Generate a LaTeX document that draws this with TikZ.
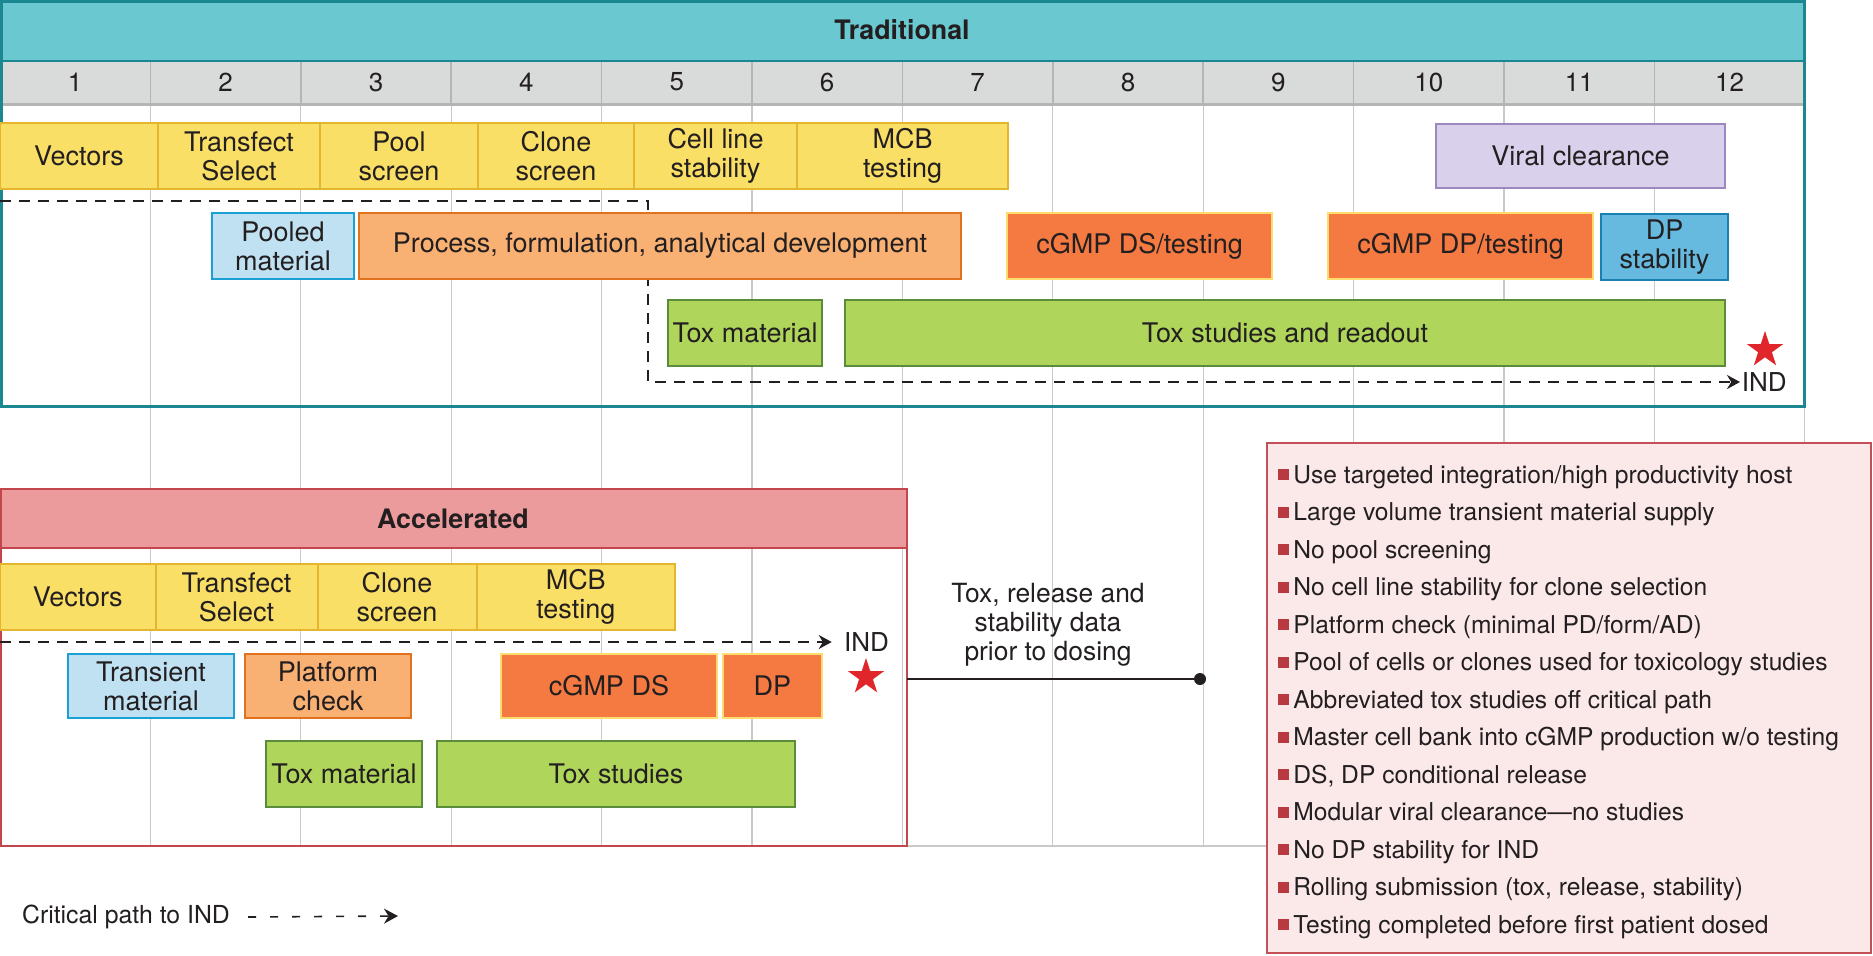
\documentclass[tikz,border=0pt]{standalone}
\usepackage{fontspec}
\setmainfont{TeX Gyre Heros}
\usetikzlibrary{positioning,arrows.meta,shapes.geometric}

\definecolor{ink}{HTML}{231F20}
\definecolor{headteal}{HTML}{69C8D0}
\definecolor{frameteal}{HTML}{1B8790}
\definecolor{rowgray}{HTML}{D9DBDB}
\definecolor{sepgray}{HTML}{B4B6B6}
\definecolor{gridgray}{HTML}{C9C9C9}
\definecolor{ybar}{HTML}{FADF66}
\definecolor{ybard}{HTML}{E3B62D}
\definecolor{lblue}{HTML}{BFE1F1}
\definecolor{lblued}{HTML}{1AA0D2}
\definecolor{lorange}{HTML}{F8B073}
\definecolor{lorganged}{HTML}{E2711F}
\definecolor{dorange}{HTML}{F47A41}
\definecolor{dorangeb}{HTML}{FDDD6E}
\definecolor{lpurple}{HTML}{D9D0EC}
\definecolor{lpurpled}{HTML}{9A88C0}
\definecolor{mblue}{HTML}{66BAE0}
\definecolor{mblued}{HTML}{1A7FB1}
\definecolor{lgreen}{HTML}{AFD65B}
\definecolor{lgreend}{HTML}{5B8C3C}
\definecolor{accpink}{HTML}{EC9B9D}
\definecolor{accred}{HTML}{C3464C}
\definecolor{listpink}{HTML}{FBE8E9}
\definecolor{listred}{HTML}{C25056}
\definecolor{bulletred}{HTML}{B8393F}
\definecolor{starred}{HTML}{E1262B}

\begin{document}
\begin{tikzpicture}[
    x=0.5pt, y=-0.5pt,
    bar/.style={draw, line width=1pt, inner sep=0pt, align=center, text=ink,
        font=\fontsize{13.5}{14.4}\selectfont, minimum height=33pt},
    yel/.style={bar, fill=ybar, draw=ybard},
    pale/.style={bar, fill=lblue, draw=lblued, minimum height=32pt},
    peach/.style={bar, fill=lorange, draw=lorganged},
    cgmp/.style={bar, fill=dorange, draw=dorangeb},
    purp/.style={bar, fill=lpurple, draw=lpurpled},
    stab/.style={bar, fill=mblue, draw=mblued},
    tox/.style={bar, fill=lgreen, draw=lgreend},
    gridline/.style={gridgray, line width=0.6pt},
    headtext/.style={font=\fontsize{13.4}{15}\selectfont\bfseries, text=ink},
    colnum/.style={font=\fontsize{13}{15}\selectfont, text=ink},
    goal/.style={star, star points=5, star point ratio=2.618, fill=starred,
        inner sep=0pt, minimum size=19pt},
    ind/.style={font=\fontsize{13}{15}\selectfont, text=ink, inner ysep=0pt},
    critpath/.style={ink, line width=1pt, dash pattern=on 5.5pt off 4pt,
        -{Stealth[length=6.5pt,width=7pt]}},
    legendpath/.style={ink, line width=0.8pt, dash pattern=on 4pt off 7pt,
        -{Stealth[length=7pt,width=7.5pt]}},
    enddot/.style={circle, fill=ink, inner sep=0pt, minimum size=6pt},
    link/.style={ink, line width=1pt},
    note/.style={align=center, text=ink, font=\fontsize{13.2}{14.5}\selectfont},
    listitem/.style={anchor=base west, inner sep=0pt, text=ink,
        font=\fontsize{12.3}{14}\selectfont}
]

\useasboundingbox (0,0) rectangle (1873,955);
\fill[white] (0,0) rectangle (1873,955);

% Month grid
\foreach \k in {1,...,12} {
    \draw[gridline] ({150.4*\k},104) -- ({150.4*\k},846);
}
\draw[gridline] (0,846) -- (1804,846);

% Traditional header and month row
\fill[headteal] (0,0) rectangle (1804,61);
\fill[rowgray] (0,61) rectangle (1804,104);
\foreach \k in {1,...,11} {
    \draw[sepgray, line width=0.8pt] ({150.4*\k},61) -- ({150.4*\k},104);
}
\foreach \k in {1,...,12} {
    \node[colnum] (m\k) at ({150.4*(\k-0.5)},82) {\k};
}
\draw[frameteal, line width=1pt] (0,61) -- (1804,61);
\draw[sepgray, line width=1.5pt] (0,104) -- (1804,104);
\draw[frameteal, line width=1.5pt] (1,1) rectangle (1804,406);
\node[headtext] (trad) at (902,30) {Traditional};

% Traditional critical path (runs behind the bars)
\node[goal] (tstar) at (1765,350) {};
\node[ind, anchor=west, inner xsep=0.75pt] (tind) at (1740,382) {IND};
\coordinate (tcp1) at (0,201);
\coordinate (tcp2) at (648,382);
\draw[critpath] (tcp1) -| (tcp2) -- (tind.west);

% Traditional, cell line row
\node[yel, minimum width=79pt] (tvec) at (79,156) {Vectors};
\node[yel, minimum width=81pt] (ttra) at (239,156) {Transfect\\Select};
\node[yel, minimum width=79pt] (tpool) at (399,156) {Pool\\screen};
\node[yel, minimum width=78pt] (tclone) at (556,156) {Clone\\screen};
\node[yel, minimum width=81.5pt] (tcell) at (715.5,156) {Cell line\\stability};
\node[yel, minimum width=105.5pt] (tmcb) at (902.5,156) {MCB\\testing};
\node[purp, minimum width=144.5pt, minimum height=32pt] (tviral) at (1580.5,156) {Viral clearance};

% Traditional, process row
\node[pale, minimum width=71pt, minimum height=33pt] (tpooled) at (283,246) {Pooled\\material};
\node[peach, minimum width=301pt] (tproc) at (660,246) {Process, formulation, analytical development};
\node[cgmp, minimum width=132.5pt] (tds) at (1139.5,246) {cGMP DS/testing};
\node[cgmp, minimum width=132.5pt] (tdp) at (1460.5,246) {cGMP DP/testing};
\node[stab, minimum width=63.5pt] (tstab) at (1664.5,247) {DP\\stability};

% Traditional, tox row
\node[tox, minimum width=77pt] (ttoxm) at (745,333) {Tox material};
\node[tox, minimum width=440pt] (ttox) at (1285,333) {Tox studies and readout};

% Accelerated frame
\fill[accpink] (0,489) rectangle (907,548);
\draw[accred, line width=1pt] (0,548) -- (907,548);
\draw[accred, line width=1.2pt] (1,489) rectangle (907,846);
\node[headtext] (accel) at (453,518.5) {Accelerated};

% Accelerated, cell line row
\node[yel, minimum width=77.75pt] (avec) at (77.75,597) {Vectors};
\node[yel, minimum width=81pt] (atra) at (236.5,597) {Transfect\\Select};
\node[yel, minimum width=79.5pt] (aclone) at (397,597) {Clone\\screen};
\node[yel, minimum width=99.25pt] (amcb) at (575.75,597) {MCB\\testing};

% Accelerated, material row
\node[pale, minimum width=83pt] (atrans) at (151,686) {Transient\\material};
\node[peach, minimum width=83pt, minimum height=32pt] (aplat) at (328,686) {Platform\\check};
\node[cgmp, minimum width=108pt, minimum height=32pt] (ads) at (609,686) {cGMP DS};
\node[cgmp, minimum width=49.7pt, minimum height=32pt] (adp) at (772.4,686) {DP};

% Accelerated, tox row
\node[tox, minimum width=78.35pt] (atoxm) at (344,774) {Tox material};
\node[tox, minimum width=179pt] (atox) at (616,774) {Tox studies};

% Accelerated critical path
\node[goal] (astar) at (866,677) {};
\node[ind, anchor=west, inner xsep=6pt] (aind) at (831.7,642) {IND};
\coordinate (acp1) at (0,642);
\draw[critpath] (acp1) -- (aind.west);

% Data before dosing
\coordinate (accout) at (907,679);
\node[enddot] (dot) at (1200,679) {};
\draw[link] (accout) -- (dot);
\node[note] (relnote) at (1048,625) {Tox, release and\\stability data\\prior to dosing};

% List of accelerations
\draw[listred, fill=listpink, line width=1pt] (1267,443) rectangle (1871,953);
\foreach \txt [count=\i from 0] in {{Use targeted integration/high productivity host},
    Large volume transient material supply, No pool screening,
    No cell line stability for clone selection, {Platform check (minimal PD/form/AD)},
    Pool of cells or clones used for toxicology studies,
    Abbreviated tox studies off critical path,
    {Master cell bank into cGMP production w/o testing},
    {DS, DP conditional release}, Modular viral clearance—no studies,
    No DP stability for IND, {Rolling submission (tox, release, stability)},
    Testing completed before first patient dosed} {
    \node[listitem] (item\i) at (1278,{483.3+37.5*\i})
        {\textcolor{bulletred}{\rule[1.5pt]{5.5pt}{5.5pt}}\hspace{2pt}\txt};
}

% Legend
\node[anchor=west, inner sep=0pt, text=ink, font=\fontsize{12.4}{14}\selectfont] (legtxt) at (21.7,917) {Critical path to IND};
\coordinate (legtip) at (398,916);
\draw[legendpath] ([xshift=9pt]legtxt.east) -- (legtip);

\end{tikzpicture}
\end{document}
